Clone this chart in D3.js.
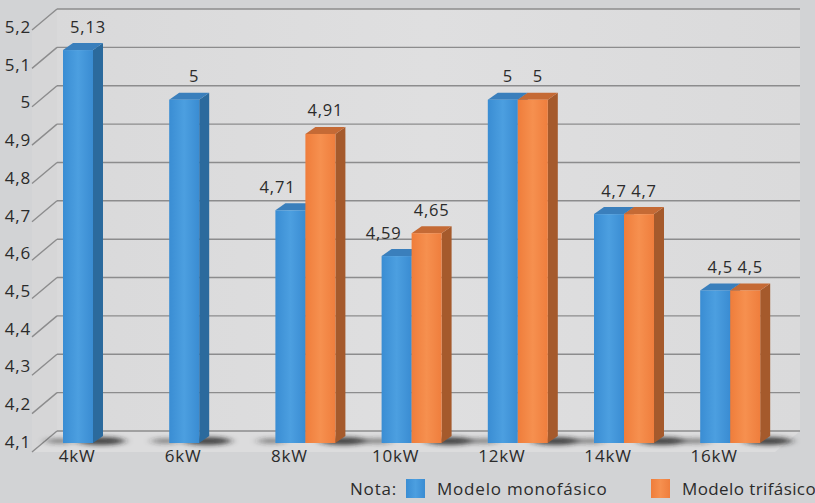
<!DOCTYPE html>
<html>
<head>
<meta charset="utf-8">
<script src="https://cdn.jsdelivr.net/npm/d3@7/dist/d3.min.js"></script>
<style>
  html, body { margin: 0; padding: 0; background: #d2d3d5; }
  svg { display: block; }
  text { font-family: "Open Sans", "DejaVu Sans", sans-serif; fill: #2b2b2b; letter-spacing: 0.8px; }
</style>
</head>
<body>
<svg id="chart" width="815" height="503"></svg>
<script>
// Potencia del equipo y valores por modelo (null = modelo no disponible)
const categories = ["4kW", "6kW", "8kW", "10kW", "12kW", "14kW", "16kW"];
const monofasico = [5.13, 5, 4.71, 4.59, 5, 4.7, 4.5];
const trifasico  = [null, null, 4.91, 4.65, 5, 4.7, 4.5];
const yTicks = [4.1, 4.2, 4.3, 4.4, 4.5, 4.6, 4.7, 4.8, 4.9, 5, 5.1, 5.2];
const seriesNames = ["Modelo monofásico", "Modelo trifásico"];
const legendNote = "Nota:";

const fmt = v => String(v).replace(".", ",");

const svg = d3.select("#chart");
const defs = svg.append("defs");

// 3D geometry
const wallLeft = 57, wallRight = 800;
const depthX = 25, depthY = 21;       // left wall / floor depth
const barDX = 10, barDY = 7;          // bar side/top depth
const barW = 30;

const domain = [4.1, 5.2];
const yBack = d3.scaleLinear().domain(domain).range([431, 9]);
const yBar = d3.scaleLinear().domain(domain).range([443, 443 - 1.1 * 381.5]);
const yLabel = d3.scaleLinear().domain(domain).range([442, 27]);
const x = d3.scaleBand().domain(categories).range([93 - 53.1, 93 + 6 * 106.2 + 53.1]);
const xc = c => x(c) + x.bandwidth() / 2;

// gradients
function hGrad(id, stops) {
  const g = defs.append("linearGradient").attr("id", id).attr("x1", 0).attr("x2", 1).attr("y1", 0).attr("y2", 0);
  stops.forEach(([o, c]) => g.append("stop").attr("offset", o).attr("stop-color", c));
}
hGrad("blueFront", [[0, "#3a8dd3"], [0.5, "#4c9fe0"], [1, "#3a8cd2"]]);
hGrad("orangeFront", [[0, "#ef7d3b"], [0.5, "#f6904f"], [1, "#ef7e3d"]]);
hGrad("wall", [[0, "#d9d9da"], [0.5, "#dfdfe0"], [1, "#dadadb"]]);

const blur = defs.append("filter").attr("id", "shadow").attr("x", "-50%").attr("y", "-200%").attr("width", "200%").attr("height", "500%");
blur.append("feGaussianBlur").attr("stdDeviation", "4 2");

// back wall
svg.append("rect").attr("x", wallLeft).attr("y", yBack(5.2)).attr("width", wallRight - wallLeft)
  .attr("height", yBack(4.1) - yBack(5.2)).attr("fill", "url(#wall)");
// left wall
svg.append("polygon").attr("points", [
  [wallLeft - depthX, yBack(5.2) + depthY], [wallLeft, yBack(5.2)],
  [wallLeft, yBack(4.1)], [wallLeft - depthX, yBack(4.1) + depthY]].map(p => p.join(",")).join(" "))
  .attr("fill", "#d6d6d7");
// floor
svg.append("polygon").attr("points", [
  [wallLeft - depthX, yBack(4.1) + depthY], [wallLeft, yBack(4.1)],
  [wallRight, yBack(4.1)], [wallRight - depthX, yBack(4.1) + depthY]].map(p => p.join(",")).join(" "))
  .attr("fill", "#dcdcdd");

// gridlines on back and left walls
const grid = svg.append("g").attr("stroke", "#8c8c8d").attr("stroke-width", 1.4).attr("fill", "none");
yTicks.forEach(v => {
  const yy = yBack(v);
  grid.append("line").attr("x1", wallLeft).attr("x2", wallRight).attr("y1", yy).attr("y2", yy);
  grid.append("line").attr("x1", wallLeft - depthX).attr("y1", yy + depthY).attr("x2", wallLeft).attr("y2", yy);
});

// y axis labels
const yAxis = d3.axisLeft(yLabel).tickValues(yTicks).tickSize(0).tickPadding(0).tickFormat(fmt);
const gy = svg.append("g").attr("transform", "translate(31,0)").call(yAxis);
gy.select(".domain").remove();
gy.selectAll("text").attr("font-size", 17).attr("font-family", "'Open Sans', sans-serif").attr("fill", "#2b2b2b");

// x axis labels
const xAxis = d3.axisBottom(x).tickSize(0).tickPadding(0);
const gx = svg.append("g").attr("transform", "translate(-16,450)").call(xAxis);
gx.select(".domain").remove();
gx.selectAll("text").attr("font-size", 17).attr("font-family", "'Open Sans', sans-serif").attr("fill", "#2b2b2b");

// bars
const palette = {
  blue:   { front: "url(#blueFront)", side: "#2b6a9d", top: "#3a7fbc" },
  orange: { front: "url(#orangeFront)", side: "#a55a2c", top: "#c56a35" }
};

const bars = [];
categories.forEach((c, i) => {
  const cx = xc(c);
  if (monofasico[i] != null) bars.push({ c, i, v: monofasico[i], x0: cx - barW, col: "blue" });
  if (trifasico[i] != null) bars.push({ c, i, v: trifasico[i], x0: cx, col: "orange" });
});

// shadows on the floor
const shadowG = svg.append("g").attr("filter", "url(#shadow)");
categories.forEach((c, i) => {
  const cx = xc(c);
  const right = trifasico[i] != null ? cx + barW : cx;
  shadowG.append("ellipse").attr("cx", right + 8).attr("cy", 441).attr("rx", 24).attr("ry", 4)
    .attr("fill", "#222").attr("opacity", 0.8);
  shadowG.append("ellipse").attr("cx", cx - barW - 4).attr("cy", 441).attr("rx", 14).attr("ry", 3)
    .attr("fill", "#2a2a2a").attr("opacity", 0.45);
});

const barG = svg.append("g");
// left to right: each bar's front face covers the side of the bar to its left
bars.forEach(b => {
  const p = palette[b.col];
  const y0 = yBar(4.1), y1 = yBar(b.v);
  const g = barG.append("g");
  g.append("polygon").attr("fill", p.side).attr("points", [
    [b.x0 + barW, y1], [b.x0 + barW + barDX, y1 - barDY], [b.x0 + barW + barDX, y0 - barDY], [b.x0 + barW, y0]
  ].map(q => q.join(",")).join(" "));
  g.append("polygon").attr("fill", p.top).attr("points", [
    [b.x0, y1], [b.x0 + barDX, y1 - barDY], [b.x0 + barW + barDX, y1 - barDY], [b.x0 + barW, y1]
  ].map(q => q.join(",")).join(" "));
  g.append("rect").attr("x", b.x0).attr("y", y1).attr("width", barW).attr("height", y0 - y1).attr("fill", p.front);
});

// value labels
const labelG = svg.append("g");
bars.forEach(b => {
  const pair = monofasico[b.i] != null && trifasico[b.i] != null;
  let lx = b.x0 + barW / 2 + barDX / 2;
  const ly = yBar(b.v) - 24;
  const t = labelG.append("text").attr("font-size", 16.5).attr("text-anchor", "middle")
    .attr("dominant-baseline", "central").text(fmt(b.v));
  if (!pair) lx += 5;
  if (pair && b.col === "blue" && trifasico[b.i] > b.v) {
    // keep the label clear of the taller neighbour bar
    const w = t.node().getComputedTextLength();
    lx = Math.min(lx, b.x0 + barW - 10 - w / 2);
  }
  t.attr("x", lx).attr("y", ly);
});

// legend
const lg = svg.append("g");
lg.append("text").attr("x", 350).attr("y", 495).attr("font-size", 17).text(legendNote);
lg.append("rect").attr("x", 406).attr("y", 479).attr("width", 19).attr("height", 19).attr("fill", "url(#blueFront)");
lg.append("text").attr("x", 437).attr("y", 495).attr("font-size", 17).text(seriesNames[0]);
lg.append("rect").attr("x", 651).attr("y", 479).attr("width", 19).attr("height", 19).attr("fill", "url(#orangeFront)");
lg.append("text").attr("x", 682).attr("y", 495).attr("font-size", 17).style("letter-spacing", "0.4px").text(seriesNames[1]);
</script>
</body>
</html>
